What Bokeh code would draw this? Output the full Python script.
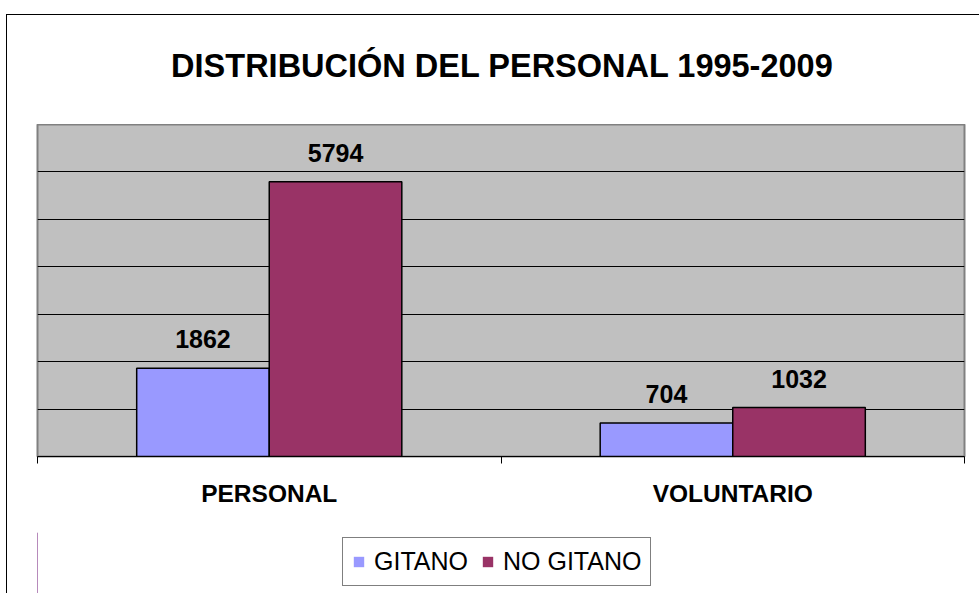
from bokeh.plotting import figure
from bokeh.layouts import column
from bokeh.models import (Range1d, LinearAxis, FixedTicker, Label,
                          Legend, LegendItem, ColumnDataSource, Grid)
from bokeh.transform import dodge
from bokeh.core.properties import value
from bokeh.embed import file_html
from bokeh.resources import INLINE

# ---- data ----
categories = ["PERSONAL", "VOLUNTARIO"]
series = ["GITANO", "NO GITANO"]
gitano = [1862, 704]
no_gitano = [5794, 1032]
y_max = 7000
grid_ticks = [1000, 2000, 3000, 4000, 5000, 6000]
chart_title = "DISTRIBUCIÓN DEL PERSONAL 1995-2009"

colors = ["#9999FF", "#993366"]
FONT = "Liberation Sans"
W = 0.286

LEFT_LINE = "linear-gradient(#000,#000) 6px {top}px / 1px 100% no-repeat"


def blank_fig(h, bg, xr=(0, 1)):
    f = figure(width=979, height=h, x_range=Range1d(*xr), y_range=Range1d(0, 1),
               title=None, output_backend="svg", toolbar_location=None,
               x_axis_location=None, y_axis_location=None,
               min_border_left=0, min_border_right=0, min_border_top=0, min_border_bottom=0)
    f.outline_line_color = None
    f.background_fill_alpha = 0
    f.border_fill_alpha = 0
    for g in f.grid:
        g.visible = False
    f.styles = {"background": bg}
    return f


# ---- title strip ----
t = blank_fig(124, LEFT_LINE.format(top=14) +
              ", linear-gradient(#000,#000) 6px 14px / 100% 1px no-repeat, #fff")
t.add_layout(Label(x=465, y=59, x_units="screen", y_units="screen", text=chart_title,
                   text_align="center", text_baseline="alphabetic",
                   text_font=FONT, text_font_size="32.5px", text_font_style="bold",
                   text_color="black"))

# ---- main chart ----
centers = [i + 0.5 for i in range(len(categories))]
src = ColumnDataSource(dict(
    x=centers,
    g=gitano,
    n=no_gitano,
    g_lbl=[str(v) for v in gitano],
    n_lbl=[str(v) for v in no_gitano],
))

p = figure(width=979, height=408, title=None,
           x_range=Range1d(0, len(categories)),
           y_range=Range1d(0, y_max),
           output_backend="svg", toolbar_location=None,
           x_axis_location=None, y_axis_location=None,
           min_border_left=37, min_border_right=15,
           min_border_top=0, min_border_bottom=76)
p.styles = {"background": LEFT_LINE.format(top=0) + ", #fff"}
p.background_fill_color = "#C0C0C0"
p.border_fill_alpha = 0
p.outline_line_color = "#808080"
p.outline_line_width = 2
for g in p.grid:
    g.visible = False
p.add_layout(Grid(dimension=1, ticker=FixedTicker(ticks=grid_ticks),
                  grid_line_color="black", grid_line_width=1))

r1 = p.vbar(x=dodge("x", -W / 2), top="g", width=W, source=src,
            fill_color=colors[0], line_color="black", line_width=1.5)
r2 = p.vbar(x=dodge("x", W / 2), top="n", width=W, source=src,
            fill_color=colors[1], line_color="black", line_width=1.5)

for col, lbl, off in (("g", "g_lbl", -W / 2), ("n", "n_lbl", W / 2)):
    p.text(x=dodge("x", off), y=col, text=lbl, source=src,
           text_align="center", text_baseline="alphabetic", y_offset=-29,
           text_font=value(FONT), text_font_style="bold", text_font_size="25px",
           text_color="black")

bounds = list(range(len(categories) + 1))
xaxis = LinearAxis(ticker=FixedTicker(ticks=centers, minor_ticks=bounds),
                   major_label_overrides={c: name for c, name in zip(centers, categories)},
                   major_label_text_font=FONT, major_label_text_font_style="bold",
                   major_label_text_font_size="24.5px", major_label_text_color="black",
                   major_label_standoff=16,
                   major_tick_line_color=None, major_tick_in=0, major_tick_out=0,
                   minor_tick_in=0, minor_tick_out=7, minor_tick_line_color="black",
                   axis_line_color="black")
p.add_layout(xaxis, "below")

# ---- legend strip (its bars lie outside this strip's visible x range) ----
lg = blank_fig(61, LEFT_LINE.format(top=0) + ", #fff", xr=(10, 11))
s1 = lg.vbar(x=dodge("x", -W / 2), top="g", width=W, source=src,
             fill_color=colors[0], line_color=None)
s2 = lg.vbar(x=dodge("x", W / 2), top="n", width=W, source=src,
             fill_color=colors[1], line_color=None)
legend = Legend(items=[LegendItem(label=series[0], renderers=[s1]),
                       LegendItem(label=series[1], renderers=[s2])],
                location=(305, 7), orientation="horizontal",
                glyph_width=13, glyph_height=13,
                label_text_font=FONT, label_text_font_size="25px", label_text_color="black",
                padding=9, spacing=13, label_standoff=9, margin=0,
                border_line_color="black", border_line_width=1,
                background_fill_color="white", background_fill_alpha=1)
lg.add_layout(legend)

layout = column(t, p, lg, spacing=0)
open("out.html", "w", encoding="utf-8").write(file_html(layout, INLINE))
